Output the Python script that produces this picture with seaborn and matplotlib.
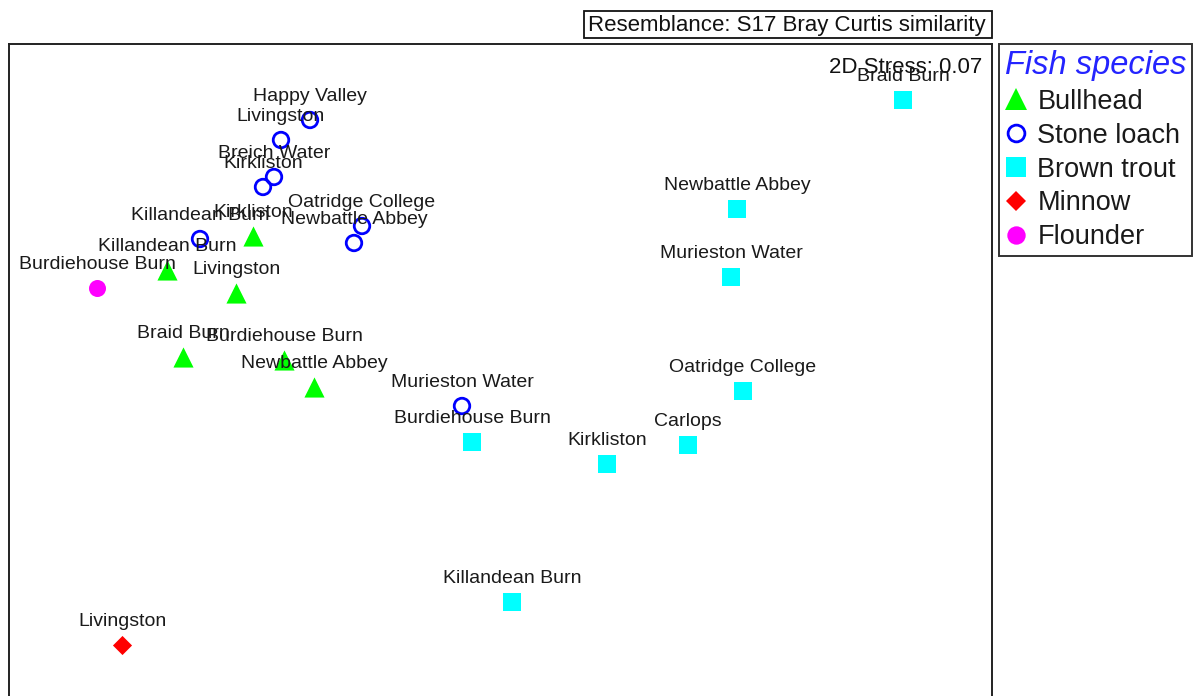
import matplotlib
matplotlib.use("Agg")
import matplotlib.pyplot as plt
from matplotlib.lines import Line2D
from matplotlib.patches import Rectangle
import seaborn as sns
import pandas as pd

# nMDS ordination positions (plot units, y grows downward) and site names
bullhead_sites = ["Kirkliston", "Killandean Burn", "Livingston", "Braid Burn",
                  "Burdiehouse Burn", "Newbattle Abbey"]
bullhead_x = [253, 167, 236, 183, 284, 314]
bullhead_y = [236, 270, 293, 357, 360, 387]

loach_sites = ["Happy Valley", "Livingston", "Breich Water", "Kirkliston",
               "Oatridge College", "Newbattle Abbey", "Killandean Burn",
               "Murieston Water"]
loach_x = [310, 281, 274, 263, 362, 354, 200, 462]
loach_y = [120, 140, 177, 187, 226, 243, 239, 406]

trout_sites = ["Braid Burn", "Newbattle Abbey", "Murieston Water",
               "Oatridge College", "Carlops", "Kirkliston",
               "Burdiehouse Burn", "Killandean Burn"]
trout_x = [903, 737, 731, 743, 688, 607, 472, 512]
trout_y = [100, 209, 277, 391, 445, 464, 442, 602]

minnow_sites = ["Livingston"]
minnow_x = [122]
minnow_y = [645]

flounder_sites = ["Burdiehouse Burn"]
flounder_x = [97]
flounder_y = [288]

species = ["Bullhead", "Stone loach", "Brown trout", "Minnow", "Flounder"]

frames = []
for sp, sites, xs, ys in [
    ("Bullhead", bullhead_sites, bullhead_x, bullhead_y),
    ("Stone loach", loach_sites, loach_x, loach_y),
    ("Brown trout", trout_sites, trout_x, trout_y),
    ("Minnow", minnow_sites, minnow_x, minnow_y),
    ("Flounder", flounder_sites, flounder_x, flounder_y),
]:
    frames.append(pd.DataFrame({"species": sp, "site": sites, "x": xs, "y": ys}))
df = pd.concat(frames, ignore_index=True)

styles = {
    "Bullhead":    dict(marker="^", color="#00ff00", s=210, filled=True),
    "Stone loach": dict(marker="o", color="#0000ff", s=125, filled=False),
    "Brown trout": dict(marker="s", color="#00ffff", s=165, filled=True),
    "Minnow":      dict(marker="D", color="#ff0000", s=95, filled=True),
    "Flounder":    dict(marker="o", color="#ff00ff", s=150, filled=True),
}

sns.set_style("white")
plt.rcParams["font.family"] = ["Liberation Sans", "DejaVu Sans"]

W, H = 1197, 696
fig = plt.figure(figsize=(W / 100, H / 100), dpi=100)
ax = fig.add_axes([9 / W, 0, (992 - 9) / W, (H - 44) / H])

text_color = "#1a1a1a"

for sp in species:
    sub = df[df["species"] == sp]
    st = styles[sp]
    sns.scatterplot(data=sub, x="x", y="y", ax=ax, marker=st["marker"],
                    s=st["s"], color=st["color"], linewidth=0, legend=False,
                    zorder=3)
    coll = ax.collections[-1]
    if not st["filled"]:
        coll.set_facecolor("none")
        coll.set_edgecolor(st["color"])
        coll.set_linewidth(2.0)
    for _, r in sub.iterrows():
        ax.annotate(r["site"], (r["x"], r["y"]), xytext=(0, 13.5),
                    textcoords="offset points", ha="center", va="baseline",
                    fontsize=14, color=text_color, zorder=4)

ax.set_xlim(9, 992)
ax.set_ylim(696, 44)
ax.set_xticks([])
ax.set_yticks([])
ax.set_xlabel("")
ax.set_ylabel("")
for side in ["left", "top", "right"]:
    ax.spines[side].set_visible(True)
    ax.spines[side].set_color("#222222")
    ax.spines[side].set_linewidth(1.4)
ax.spines["bottom"].set_visible(False)

ax.text(982, 73, "2D Stress: 0.07", ha="right", va="baseline",
        fontsize=16, color="#111111", zorder=2)

# Resemblance caption box above the ordination
fig.patches.append(Rectangle((584 / W, 1 - 38 / H), (992 - 584) / W, 27 / H,
                             transform=fig.transFigure, facecolor="white",
                             edgecolor="#111111", linewidth=1.3))
fig.text(588 / W, 1 - 31 / H, "Resemblance: S17 Bray Curtis similarity",
         ha="left", va="baseline", fontsize=16.0, color="#111111")

# Species legend
handles = []
for sp in species:
    st = styles[sp]
    ms = (st["s"] ** 0.5) * 1.08
    if st["filled"]:
        h = Line2D([], [], linestyle="none", marker=st["marker"], markersize=ms,
                   markerfacecolor=st["color"], markeredgewidth=0)
    else:
        h = Line2D([], [], linestyle="none", marker=st["marker"], markersize=ms,
                   markerfacecolor="none", markeredgecolor=st["color"],
                   markeredgewidth=2.0)
    handles.append(h)

leg = ax.legend(handles, species, loc="upper left",
                bbox_to_anchor=(999 / W, 1 - 44 / H),
                bbox_transform=fig.transFigure, borderaxespad=0,
                fontsize=19.5, title="Fish species", alignment="left",
                title_fontproperties={"size": 23.5, "style": "italic"},
                handlelength=0.8, handletextpad=0.4, borderpad=0.22,
                labelspacing=0.29, frameon=True, fancybox=False)
leg.get_title().set_color("#2424ff")
for t in leg.get_texts():
    t.set_color(text_color)
frame = leg.get_frame()
frame.set_edgecolor("#333333")
frame.set_linewidth(1.4)
frame.set_facecolor("white")
frame.set_alpha(1)

fig.savefig("out.png", dpi=100, facecolor="white")
